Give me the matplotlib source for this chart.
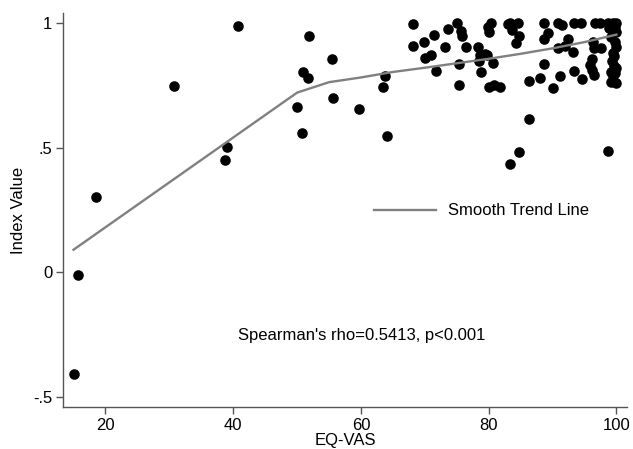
import matplotlib
matplotlib.use("Agg")
import matplotlib.pyplot as plt

plt.rcParams['font.family'] = ['Liberation Sans', 'DejaVu Sans']

eq_vas = [15.0, 15.7, 18.5, 30.7, 38.7, 39.0, 40.8, 50.0, 50.8, 51.0, 51.7, 51.9,
          55.4, 55.6, 59.7, 63.8, 63.4, 64.0,
          68.1, 68.2, 69.8, 71.4, 70.1, 70.9, 71.7, 73.2, 73.7, 75.0, 75.7, 75.8,
          76.5, 75.4, 75.4, 78.3, 78.6, 79.4, 79.7, 78.5, 80.6, 78.8, 79.9, 80.3,
          80.0, 80.0, 80.8, 81.8, 83.0,
          83.3, 84.6, 83.6, 84.8, 84.3, 88.6, 89.3, 88.7, 90.8, 91.5, 93.3, 94.5,
          92.4, 91.9, 90.8, 93.2, 96.6, 97.4, 98.6, 99.4, 100.0, 96.3, 96.5, 97.6,
          96.1, 95.9, 99.2, 99.7, 100.0, 99.5, 99.3, 99.6, 88.6, 93.3, 96.1, 96.5,
          94.6, 99.1, 99.1, 88.1, 86.3, 90.0, 91.1,
          86.3, 84.7, 83.4, 98.7,
          99.8, 100.0, 99.6, 99.9, 99.4, 100.0, 98.9, 99.7]
index_value = [-0.409, -0.009, 0.303, 0.747, 0.452, 0.504, 0.989, 0.665, 0.558, 0.803, 0.779, 0.949,
               0.856, 0.702, 0.655, 0.789, 0.745, 0.547,
               0.997, 0.910, 0.924, 0.954, 0.862, 0.873, 0.810, 0.906, 0.977, 1.000, 0.969, 0.949,
               0.906, 0.839, 0.752, 0.906, 0.873, 0.879, 0.873, 0.850, 0.842, 0.803, 0.986, 1.000,
               0.966, 0.743, 0.752, 0.743, 0.997,
               1.000, 1.000, 0.973, 0.949, 0.922, 1.000, 0.960, 0.936, 1.000, 0.993, 1.000, 1.000,
               0.936, 0.909, 0.903, 0.886, 1.000, 1.000, 1.000, 1.000, 1.000, 0.926, 0.900, 0.900,
               0.859, 0.832, 0.946, 0.926, 0.906, 0.880, 0.850, 0.830, 0.836, 0.808, 0.812, 0.792,
               0.776, 0.805, 0.765, 0.779, 0.768, 0.739, 0.788,
               0.615, 0.484, 0.437, 0.488,
               0.985, 0.965, 0.870, 0.820, 0.790, 0.760, 0.980, 0.800]

trend_x = [15, 50, 55, 60, 65, 70, 75, 80, 85, 90, 95, 100]
trend_y = [0.091, 0.722, 0.764, 0.783, 0.805, 0.822, 0.840, 0.858, 0.878, 0.900, 0.925, 0.955]

x_ticks = [20, 40, 60, 80, 100]
y_ticks = [-0.5, 0, 0.5, 1]
y_tick_labels = ['-.5', '0', '.5', '1']

fig = plt.figure(figsize=(6.33, 4.49), dpi=100)
ax = fig.add_axes([0.1, 0.094, 0.89, 0.876])

ax.scatter(eq_vas, index_value, s=58, color='black', zorder=2, linewidths=0)
ax.plot(trend_x, trend_y, color='#808080', lw=1.7, zorder=3, label='Smooth Trend Line')

ax.set_xlim(13.4, 101.6)
ax.set_ylim(-0.54, 1.04)
ax.set_xticks(x_ticks)
ax.set_yticks(y_ticks)
ax.set_yticklabels(y_tick_labels)
ax.tick_params(axis='both', direction='out', length=5, width=1, color='#555555',
               labelsize=12, pad=3)
for s in ['top', 'right']:
    ax.spines[s].set_visible(False)
for s in ['left', 'bottom']:
    ax.spines[s].set_color('#555555')
    ax.spines[s].set_linewidth(1)

ax.set_xlabel('EQ-VAS', fontsize=12, labelpad=0)
ax.set_ylabel('Index Value', fontsize=12, labelpad=5)

ax.text(40.75, -0.253, "Spearman's rho=0.5413, p<0.001", fontsize=12,
        ha='left', va='center')

ax.legend(loc='center left', bbox_to_anchor=(0.552, 0.498), frameon=False,
          fontsize=12, handlelength=3.7, handletextpad=0.7, borderpad=0,
          borderaxespad=0)

fig.savefig('out.png', dpi=100)
